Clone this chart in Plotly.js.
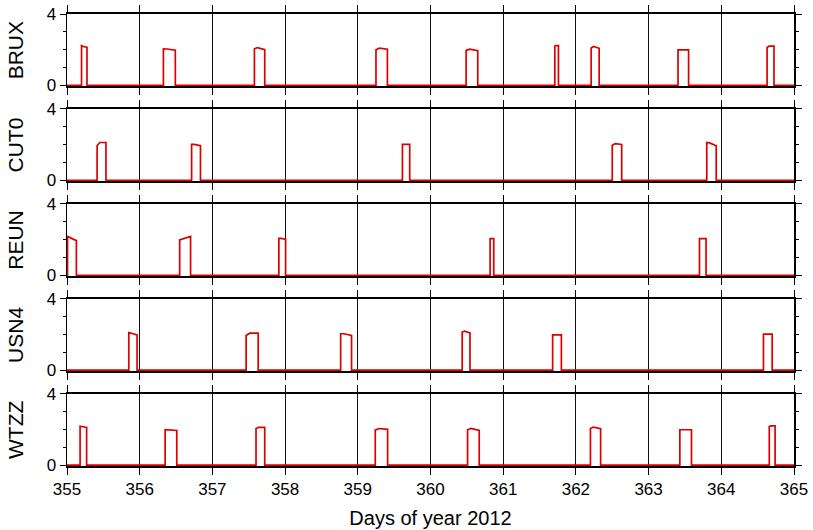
<!DOCTYPE html>
<html>
<head>
<meta charset="utf-8">
<script src="https://cdn.plot.ly/plotly-3.0.1.min.js"></script>
<style>html,body{margin:0;padding:0;background:#fff;}#chart{width:813px;height:530px;}</style>
</head>
<body>
<div id="chart"></div>
<script>
// Station names (top to bottom)
const stations = ["BRUX", "CUT0", "REUN", "USN4", "WTZZ"];

// Jump start / end (day of year 2012) and top levels [left, peak, right]
const bruxOn  = [355.200, 356.326, 357.578, 359.250, 360.490, 361.710, 362.210, 363.405, 364.630];
const bruxOff = [355.275, 356.490, 357.720, 359.407, 360.650, 361.760, 362.320, 363.550, 364.725];
const bruxLvl = [[2.23,2.18,2.14],[2.05,2.04,1.97],[2.05,2.12,2.00],[1.99,2.09,2.03],[1.96,2.03,1.94],[2.20,2.23,2.23],[2.10,2.18,2.08],[1.99,1.99,1.99],[2.12,2.20,2.20]];

const cut0On  = [355.414, 356.714, 359.614, 362.500, 363.800];
const cut0Off = [355.536, 356.836, 359.714, 362.630, 363.930];
const cut0Lvl = [[1.94,2.12,2.12],[2.01,2.01,1.94],[2.01,2.01,2.01],[1.97,2.05,2.01],[2.12,2.10,1.94]];

const reunOn  = [355.007, 356.550, 357.914, 360.820, 363.700];
const reunOff = [355.129, 356.700, 358.007, 360.870, 363.790];
const reunLvl = [[2.17,2.10,1.94],[1.98,2.05,2.18],[2.07,2.07,2.02],[2.05,2.05,2.05],[2.05,2.05,2.05]];

const usn4On  = [355.850, 357.464, 358.764, 360.436, 361.680, 364.580];
const usn4Off = [355.964, 357.630, 358.914, 360.543, 361.800, 364.700];
const usn4Lvl = [[2.11,2.08,1.98],[1.94,2.07,2.07],[2.04,2.04,1.94],[2.13,2.18,2.09],[1.98,1.98,1.98],[2.02,2.02,2.02]];

const wtzzOn  = [355.180, 356.350, 357.600, 359.240, 360.510, 362.200, 363.430, 364.660];
const wtzzOff = [355.270, 356.510, 357.720, 359.410, 360.670, 362.340, 363.590, 364.740];
const wtzzLvl = [[2.18,2.15,2.11],[1.98,1.98,1.94],[2.05,2.11,2.11],[1.96,2.05,2.00],[1.98,2.05,1.94],[2.05,2.13,2.04],[1.98,1.98,1.98],[2.17,2.20,2.20]];

const xStart = 355, xEnd = 365;
const xTicks = [355, 356, 357, 358, 359, 360, 361, 362, 363, 364, 365];
const yTicks = [0, 4];
const yMinor = [1, 2, 3];

const series = [
  [bruxOn, bruxOff, bruxLvl],
  [cut0On, cut0Off, cut0Lvl],
  [reunOn, reunOff, reunLvl],
  [usn4On, usn4Off, usn4Lvl],
  [wtzzOn, wtzzOff, wtzzLvl]
];

function buildLine(on, off, lvl) {
  const x = [xStart], y = [0];
  for (let i = 0; i < on.length; i++) {
    const w = off[i] - on[i];
    x.push(on[i], on[i], on[i] + 0.3 * w, off[i], off[i]);
    y.push(0, lvl[i][0], lvl[i][1], lvl[i][2], 0);
  }
  x.push(xEnd); y.push(0);
  return {x, y};
}

const FONT = "Liberation Sans, Arial, Helvetica, sans-serif";
const domains = [[0.84, 1.0], [0.63, 0.79], [0.42, 0.58], [0.21, 0.37], [0.0, 0.16]];

const data = [];
const layout = {
  width: 813, height: 530,
  margin: {l: 67, r: 19, t: 14, b: 64},
  paper_bgcolor: "#fff", plot_bgcolor: "#fff",
  showlegend: false,
  font: {family: FONT, size: 17, color: "#000"}
};

series.forEach((s, i) => {
  const n = i + 1;
  const xa = n === 1 ? "x" : "x" + n;
  const ya = n === 1 ? "y" : "y" + n;
  const ln = buildLine(s[0], s[1], s[2]);
  data.push({
    type: "scatter", mode: "lines", x: ln.x, y: ln.y,
    xaxis: xa, yaxis: ya,
    line: {color: "rgb(220,0,0)", width: 1.7, shape: "linear"},
    hoverinfo: "skip"
  });
  const isBottom = n === series.length;
  layout["xaxis" + (n === 1 ? "" : n)] = {
    anchor: ya, domain: [0, 1], range: [xStart, xEnd],
    tickmode: "array", tickvals: xTicks, ticktext: xTicks.map(String),
    showticklabels: isBottom,
    ticks: "outside", ticklen: 7, tickwidth: 1, tickcolor: "#000",
    showgrid: true, gridcolor: "#111", gridwidth: 1,
    showline: true, linecolor: "#000", linewidth: 2, mirror: "ticks",
    zeroline: false, layer: "below traces",
    tickfont: {family: FONT, size: 17, color: "#000"},
    title: isBottom ? {text: "Days of year 2012", font: {family: FONT, size: 20, color: "#000"}, standoff: 13} : {text: ""}
  };
  layout["yaxis" + (n === 1 ? "" : n)] = {
    anchor: xa, domain: domains[i], range: [-0.05, 4],
    tickmode: "array", tickvals: yTicks, ticktext: yTicks.map(String),
    ticks: "outside", ticklen: 6, tickwidth: 1, tickcolor: "#000",
    minor: {tickvals: yMinor, ticks: "outside", ticklen: 3, tickcolor: "#000", tickwidth: 1, showgrid: false},
    showgrid: false, zeroline: false,
    showline: true, linecolor: "#000", linewidth: 1.5, mirror: "ticks",
    layer: "below traces",
    tickfont: {family: FONT, size: 17, color: "#000"},
    title: {text: stations[i], font: {family: FONT, size: 21, color: "#000"}, standoff: 17}
  };
});

Plotly.newPlot("chart", data, layout, {staticPlot: true, displayModeBar: false});
</script>
</body>
</html>
